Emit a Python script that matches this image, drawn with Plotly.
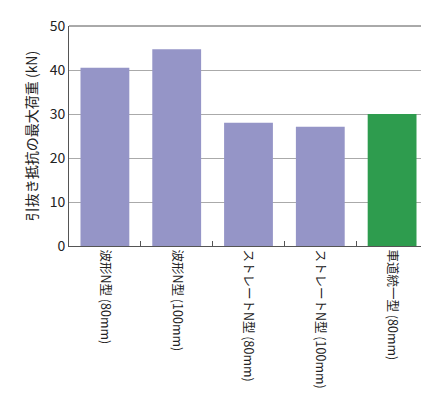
import plotly.graph_objects as go

categories = ["波形N型 (80mm)", "波形N型 (100mm)", "ストレートN型 (80mm)",
              "ストレートN型 (100mm)", "車道統一型 (80mm)"]
values = [40.5, 44.7, 28.0, 27.1, 30.0]
colors = ["#9595c7", "#9595c7", "#9595c7", "#9595c7", "#2e9c4e"]
y_ticks = [0, 10, 20, 30, 40, 50]

fig = go.Figure(go.Bar(
    x=categories, y=values, width=0.68,
    marker=dict(color=colors, line=dict(width=0)),
))

fig.update_layout(
    width=429, height=413,
    margin=dict(l=61, r=9, t=18, b=175),
    plot_bgcolor="white", paper_bgcolor="white",
    font=dict(family="Noto Sans CJK JP", size=13, color="#222"),
    showlegend=False,
)
fig.update_yaxes(
    range=[0, 50], tickvals=y_ticks, showgrid=True, gridcolor="#aaaaaa",
    gridwidth=1, showline=True, linecolor="#555", automargin=False,
    ticks="", tickfont=dict(size=14),
    title=dict(text="引抜き抵抗の最大荷重 (kN)", font=dict(size=14), standoff=8),
)
fig.update_xaxes(
    tickangle=90, showline=True, linecolor="#555", ticks="inside",
    tickson="boundaries", ticklen=5, tickcolor="#555", automargin=False,
    tickfont=dict(size=12.5),
)
# top border
fig.add_shape(type="line", xref="paper", yref="paper", x0=0, x1=1, y0=1, y1=1,
              line=dict(color="#555", width=1))

fig.write_html("out.html")
